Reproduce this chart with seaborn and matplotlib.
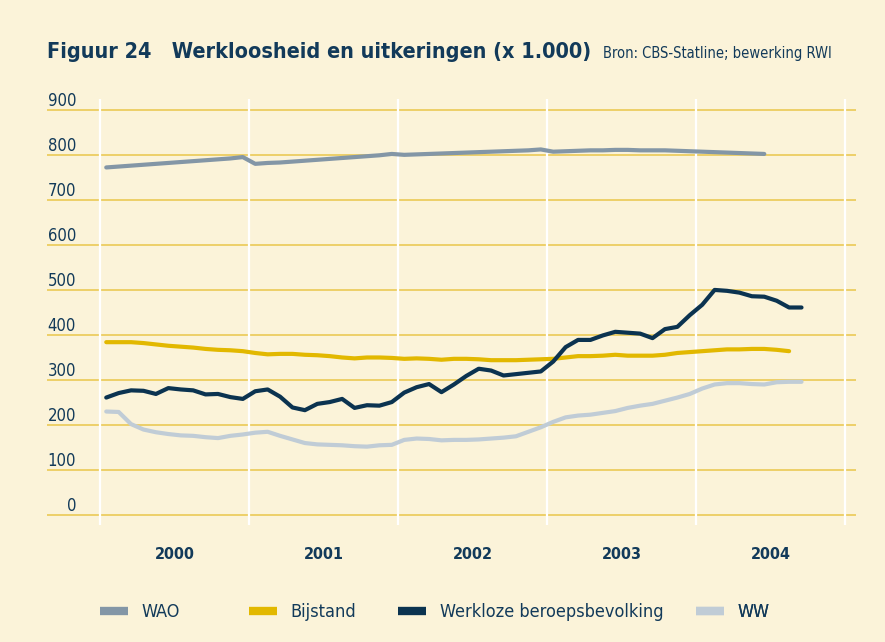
import matplotlib
matplotlib.use("Agg")
import matplotlib.pyplot as plt
import matplotlib.transforms as mtransforms
from matplotlib.lines import Line2D
import numpy as np
import pandas as pd
import seaborn as sns

# monthly figures, x 1.000, starting January 2000
YEARS = [2000, 2001, 2002, 2003, 2004]

wao = [772, 774, 776, 778, 780, 782, 784, 786, 788, 790, 792, 795,
       780, 782, 783, 785, 787, 789, 791, 793, 795, 797, 799, 802,
       800, 801, 802, 803, 804, 805, 806, 807, 808, 809, 810, 812,
       807, 808, 809, 810, 810, 811, 811, 810, 810, 810, 809, 808,
       807, 806, 805, 804, 803, 802]

bijstand = [384, 384, 384, 382, 379, 376, 374, 372, 369, 367, 366, 364,
            360, 357, 358, 358, 356, 355, 353, 350, 348, 350, 350, 349,
            347, 348, 347, 345, 347, 347, 346, 344, 344, 344, 345, 346,
            347, 350, 353, 353, 354, 356, 354, 354, 354, 356, 360, 362,
            364, 366, 368, 368, 369, 369, 367, 364]

werkloze = [261, 271, 277, 276, 269, 282, 279, 277, 268, 269, 262, 258,
            275, 279, 263, 239, 233, 247, 251, 258, 238, 244, 243, 251,
            272, 284, 291, 273, 290, 309, 325, 321, 310, 313, 316, 319,
            341, 373, 389, 389, 399, 407, 405, 403, 393, 413, 418, 444,
            467, 500, 498, 494, 486, 485, 476, 461, 461]

ww = [230, 229, 202, 190, 184, 180, 177, 176, 173, 171, 176, 179,
      183, 185, 176, 168, 160, 157, 156, 155, 153, 152, 155, 156,
      167, 170, 169, 166, 167, 167, 168, 170, 172, 175, 185, 195,
      207, 217, 221, 223, 227, 231, 238, 243, 247, 254, 261, 269,
      281, 290, 293, 293, 291, 290, 295, 296, 296]

SERIES = {
    "WAO": wao,
    "Bijstand": bijstand,
    "Werkloze beroepsbevolking": werkloze,
    "WW": ww,
}
COLORS = {
    "WAO": "#8396a6",
    "Bijstand": "#e2b800",
    "Werkloze beroepsbevolking": "#0b3350",
    "WW": "#c0ccd6",
}
# legend entries start at these year boundaries
LEGEND_AT = [2000, 2001, 2002, 2004]

BG = "#fbf3d9"
GRID = "#ebca55"
NAVY = "#123a5a"


def build_frame():
    rows = []
    for name, vals in SERIES.items():
        months = pd.date_range("2000-01-01", periods=len(vals), freq="MS")
        for d, v in zip(months, vals):
            rows.append({"t": d.year + (d.month - 0.5) / 12, "v": v, "reeks": name})
    return pd.DataFrame(rows)


def main():
    sns.set_style("white")
    plt.rcParams["font.family"] = ["DejaVu Sans"]
    plt.rcParams["font.stretch"] = "condensed"

    fig = plt.figure(figsize=(8.85, 6.42), dpi=100, facecolor=BG)
    ax = fig.add_axes([47 / 885, 1 - 525 / 642, 809 / 885, 426 / 642])
    ax.set_facecolor(BG)

    df = build_frame()
    sns.lineplot(data=df, x="t", y="v", hue="reeks", palette=COLORS,
                 linewidth=3, legend=False, ax=ax, zorder=3,
                 solid_capstyle="round")

    # year separators
    for y in YEARS + [YEARS[-1] + 1]:
        ax.axvline(y, color="white", lw=1.6, zorder=1.5)

    ax.set_xlim(YEARS[0] - 0.356, YEARS[-1] + 1.074)
    ax.set_ylim(-22, 924)
    ax.set_yticks(range(0, 1000, 100))
    ax.yaxis.grid(True, color=GRID, lw=1.2, zorder=0.5)
    ax.xaxis.grid(False)
    ax.set_axisbelow(True)
    for s in ax.spines.values():
        s.set_visible(False)

    ax.tick_params(axis="y", length=0, pad=-21, labelsize=12, labelcolor=NAVY)
    for lab in ax.get_yticklabels():
        lab.set_horizontalalignment("right")
        lab.set_verticalalignment("bottom")

    ax.set_xticks([y + 0.5 for y in YEARS])
    ax.set_xticklabels([str(y) for y in YEARS], fontweight="bold")
    ax.tick_params(axis="x", length=0, pad=16, labelsize=11.5, labelcolor=NAVY)
    ax.set_xlabel("")
    ax.set_ylabel("")

    fig.text(47 / 885, 1 - 58 / 642, "Figuur 24   Werkloosheid en uitkeringen (x 1.000)",
             fontsize=15.5, fontweight="bold", color=NAVY, ha="left", va="baseline")
    fig.text(603 / 885, 1 - 58 / 642, "Bron: CBS-Statline; bewerking RWI",
             fontsize=10.5, color=NAVY, ha="left", va="baseline")

    trans = mtransforms.blended_transform_factory(ax.transData, fig.transFigure)
    for year, name in zip(LEGEND_AT, SERIES):
        h = Line2D([], [], color=COLORS[name], lw=6, solid_capstyle="butt")
        leg = ax.legend([h], [name], loc="center left",
                        bbox_to_anchor=(year, 1 - 612 / 642), bbox_transform=trans,
                        frameon=False, fontsize=13, handlelength=1.55,
                        handletextpad=0.75, borderpad=0, borderaxespad=0)
        for t in leg.get_texts():
            t.set_color(NAVY)
        ax.add_artist(leg)

    fig.savefig("out.png", dpi=100, facecolor=BG)


if __name__ == "__main__":
    main()
